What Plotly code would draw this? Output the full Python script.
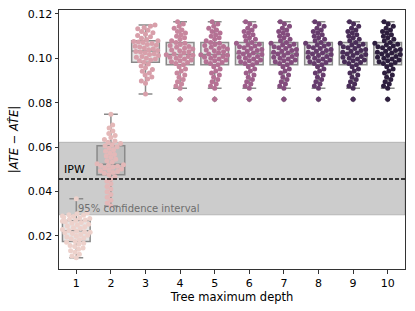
import numpy as np
import plotly.graph_objects as go

# ---------------- data ----------------
depths = [1, 2, 3, 4, 5, 6, 7, 8, 9, 10]
tick_labels = ["1", "2", "3", "4", "5", "6", "7", "8", "9", "10"]

depth_1 = [0.0102, 0.0110, 0.0118, 0.0126, 0.0133, 0.0140, 0.0146, 0.0152, 0.0157, 0.0162,
           0.0167, 0.0171, 0.0175, 0.0183, 0.0187, 0.0191, 0.0195, 0.0199, 0.0203, 0.0207,
           0.0211, 0.0214, 0.0217, 0.0219, 0.0221, 0.0225, 0.0229, 0.0233, 0.0237, 0.0241,
           0.0245, 0.0249, 0.0253, 0.0257, 0.0261, 0.0264, 0.0266, 0.0269, 0.0272, 0.0275,
           0.0278, 0.0281, 0.0284, 0.0287, 0.0290, 0.0293, 0.0296, 0.0300, 0.0305, 0.0367]

depth_2 = [0.0335, 0.0348, 0.0361, 0.0374, 0.0387, 0.0399, 0.0411, 0.0423, 0.0435, 0.0446,
           0.0457, 0.0467, 0.0476, 0.0482, 0.0486, 0.0490, 0.0494, 0.0498, 0.0502, 0.0506,
           0.0510, 0.0514, 0.0517, 0.0519, 0.0521, 0.0525, 0.0532, 0.0539, 0.0546, 0.0553,
           0.0560, 0.0567, 0.0574, 0.0581, 0.0588, 0.0595, 0.0602, 0.0606, 0.0611, 0.0616,
           0.0622, 0.0628, 0.0635, 0.0643, 0.0652, 0.0662, 0.0673, 0.0686, 0.0700, 0.0748]

depth_3 = [0.0840, 0.0888, 0.0898, 0.0907, 0.0916, 0.0925, 0.0934, 0.0942, 0.0950, 0.0958,
           0.0966, 0.0975, 0.0983, 0.0989, 0.0993, 0.0997, 0.1001, 0.1005, 0.1009, 0.1013,
           0.1017, 0.1021, 0.1025, 0.1029, 0.1031, 0.1035, 0.1039, 0.1043, 0.1047, 0.1051,
           0.1055, 0.1059, 0.1063, 0.1067, 0.1071, 0.1074, 0.1076, 0.1079, 0.1085, 0.1091,
           0.1097, 0.1103, 0.1109, 0.1115, 0.1121, 0.1127, 0.1133, 0.1139, 0.1145, 0.1150]

depth_4_5 = [0.0816, 0.0865, 0.0875, 0.0885, 0.0895, 0.0905, 0.0915, 0.0925, 0.0934, 0.0943,
             0.0952, 0.0962, 0.0971, 0.0977, 0.0981, 0.0985, 0.0989, 0.0993, 0.0997, 0.1001,
             0.1005, 0.1009, 0.1012, 0.1014, 0.1016, 0.1020, 0.1025, 0.1030, 0.1034, 0.1038,
             0.1042, 0.1046, 0.1050, 0.1054, 0.1058, 0.1063, 0.1068, 0.1072, 0.1079, 0.1086,
             0.1093, 0.1100, 0.1107, 0.1114, 0.1121, 0.1128, 0.1136, 0.1145, 0.1155, 0.1165]

depth_6_10 = [0.0816, 0.0865, 0.0875, 0.0885, 0.0895, 0.0905, 0.0915, 0.0925, 0.0934, 0.0943,
              0.0952, 0.0962, 0.0971, 0.0977, 0.0981, 0.0985, 0.0989, 0.0993, 0.0997, 0.1001,
              0.1005, 0.1009, 0.1013, 0.1017, 0.1020, 0.1024, 0.1028, 0.1032, 0.1036, 0.1040,
              0.1044, 0.1048, 0.1052, 0.1056, 0.1060, 0.1064, 0.1068, 0.1072, 0.1079, 0.1086,
              0.1093, 0.1100, 0.1107, 0.1114, 0.1121, 0.1128, 0.1136, 0.1145, 0.1155, 0.1165]

series = [depth_1, depth_2, depth_3, depth_4_5, depth_4_5,
          depth_6_10, depth_6_10, depth_6_10, depth_6_10, depth_6_10]

ipw_estimate = 0.0457
ci_low = 0.0295
ci_high = 0.0622
y_ticks = [0.02, 0.04, 0.06, 0.08, 0.10, 0.12]
y_range = [0.0051, 0.1218]


# ---------------- helpers ----------------
def cubehelix(n, start=0.0, rot=0.4, gamma=1.0, hue=0.8, light=0.85, dark=0.15):
    xs = np.linspace(light, dark, n)
    cols = []
    for x in xs:
        xg = x ** gamma
        a = hue * xg * (1 - xg) / 2
        phi = 2 * np.pi * (start / 3 + rot * x)
        r = xg + a * (-0.14861 * np.cos(phi) + 1.78277 * np.sin(phi))
        g = xg + a * (-0.29227 * np.cos(phi) - 0.90649 * np.sin(phi))
        b = xg + a * (1.97294 * np.cos(phi))
        c = [int(round(255 * min(max(v, 0), 1))) for v in (r, g, b)]
        cols.append("rgb(%d,%d,%d)" % tuple(c))
    return cols


W, H = 415, 311
ML, MR, MT, MB = 59, 10, 10, 42
plot_w = W - ML - MR
plot_h = H - MT - MB
x_range = [0.5, 10.5]
px_per_x = plot_w / (x_range[1] - x_range[0])
px_per_y = plot_h / (y_range[1] - y_range[0])
DOT = 5.0
SPACING = 4.7


def beeswarm(values, d=SPACING, half_width_px=0.4 * px_per_x):
    vals = np.asarray(values, dtype=float)
    order = np.argsort(vals, kind="stable")
    placed = []
    offs = np.zeros(len(vals))
    for i in order:
        y = vals[i] * px_per_y
        neigh = [(px, py) for px, py in placed if abs(py - y) < d]
        cands = [0.0]
        for px, py in neigh:
            dx = np.sqrt(d * d - (py - y) ** 2)
            cands += [px - dx, px + dx]
        cands.sort(key=abs)
        chosen = 0.0
        for c in cands:
            if all((c - px) ** 2 + (y - py) ** 2 >= d * d - 1e-6 for px, py in neigh):
                chosen = c
                break
        placed.append((chosen, y))
        offs[i] = chosen
    offs = np.clip(offs, -half_width_px, half_width_px)
    return offs / px_per_x


colors = cubehelix(len(depths))
BOX_EDGE = "#8a8a8a"

fig = go.Figure()

for d, vals, col in zip(depths, series, colors):
    fig.add_trace(go.Box(
        x=[d] * len(vals), y=vals, width=0.8,
        fillcolor="rgba(140,140,140,0.22)",
        line=dict(color=BOX_EDGE, width=1.5),
        whiskerwidth=0.5,
        boxpoints="outliers", jitter=0, pointpos=0,
        marker=dict(symbol="diamond", color=BOX_EDGE, size=5),
        quartilemethod="linear",
        showlegend=False, hoverinfo="skip",
    ))

for d, vals, col in zip(depths, series, colors):
    offs = beeswarm(vals)
    fig.add_trace(go.Scatter(
        x=d + offs, y=vals, mode="markers",
        marker=dict(color=col, size=DOT, line=dict(width=0)),
        showlegend=False, hoverinfo="skip",
    ))

fig.add_shape(type="rect", xref="paper", x0=0, x1=1, yref="y", y0=ci_low, y1=ci_high,
              fillcolor="rgba(128,128,128,0.4)", line=dict(color="rgba(128,128,128,0.45)", width=1),
              layer="below")
fig.add_shape(type="line", xref="paper", x0=0, x1=1, yref="y", y0=ipw_estimate, y1=ipw_estimate,
              line=dict(color="black", width=1.5, dash="4px,2px"), layer="above")

fig.add_annotation(x=0.6, y=ipw_estimate, xref="x", yref="y", text="IPW",
                   showarrow=False, xanchor="left", yanchor="bottom", yshift=1,
                   font=dict(family="DejaVu Sans", size=11, color="black"))
fig.add_annotation(x=0.5, y=ci_low, xref="x", yref="y", text="95% confidence interval",
                   showarrow=False, xanchor="left", yanchor="bottom", xshift=17, yshift=-1,
                   font=dict(family="DejaVu Sans", size=10, color="#6e6e6e"))

axis_common = dict(showline=True, mirror=True, linecolor="#333333", linewidth=1,
                   ticks="outside", ticklen=3.5, tickcolor="#333333", showgrid=False,
                   zeroline=False, automargin=False,
                   tickfont=dict(family="DejaVu Sans", size=11, color="black"))

fig.update_xaxes(range=x_range, tickvals=depths, ticktext=tick_labels,
                 title=dict(text="Tree maximum depth", standoff=3,
                            font=dict(family="DejaVu Sans", size=11.5, color="black")),
                 **axis_common)
fig.update_yaxes(range=y_range, tickvals=y_ticks, tickformat=".2f",
                 title=dict(text="|<i>ATE</i> − <i>AT\u0302E</i>|", standoff=6,
                            font=dict(family="DejaVu Sans", size=11.5, color="black")),
                 **axis_common)

fig.update_layout(width=W, height=H, margin=dict(l=ML, r=MR, t=MT, b=MB, autoexpand=False),
                  paper_bgcolor="white", plot_bgcolor="white", boxmode="overlay",
                  showlegend=False, font=dict(family="DejaVu Sans"))

fig.write_html("out.html", config={"displayModeBar": False},
               post_script="document.body.style.margin='0';document.body.style.overflow='hidden';")
